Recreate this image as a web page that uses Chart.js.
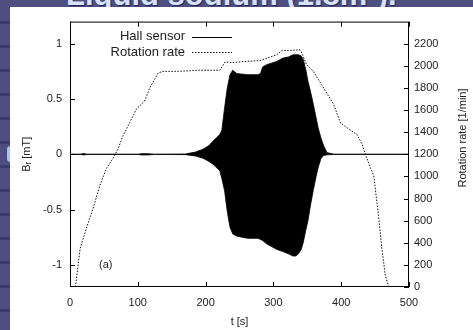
<!DOCTYPE html>
<html><head><meta charset="utf-8">
<script src="https://cdn.jsdelivr.net/npm/chart.js@4.4.1/dist/chart.umd.min.js"></script>
<style>
html,body{margin:0;padding:0;}
body{width:473px;height:330px;overflow:hidden;position:relative;background:#4b4b7c;
 background-image:repeating-linear-gradient(to bottom,#4e4e80 0px,#4e4e80 21px,#3b3b67 21px,#3b3b67 24px);}
#title{position:absolute;left:66px;top:-21px;font:bold 31px "Liberation Sans",Arial,sans-serif;color:#d6e2ff;white-space:nowrap;line-height:31px;text-shadow:1px 1px 1px #22224a;z-index:1;}
#panel{position:absolute;left:10px;top:7px;width:463px;height:323px;background:#fff;z-index:2;}
#blob{position:absolute;left:7px;top:146px;width:7px;height:16px;border-radius:4px;background:#a9c2f2;z-index:1;}
canvas{display:block;}
</style></head>
<body>
<div id="title">Liquid sodium (1.8m³).</div>
<div id="blob"></div>
<div id="panel"><canvas id="c" width="463" height="323"></canvas></div>
<script>
// ---- data ----
const rotT = [8, 15, 24, 34, 44, 53.5, 63, 71, 78, 88, 98, 110, 117.6, 130, 137, 160, 190, 221, 228.5, 240, 260, 280, 305, 312, 325, 339.5, 342, 349, 359, 374, 389, 398.7, 408.6, 423, 431, 435.6, 443, 448, 455, 460, 465, 470];
const rotR = [0, 350, 528, 710, 917, 1070, 1160, 1250, 1366, 1486, 1610, 1680, 1800, 1935, 1950, 1950, 1960, 1960, 2034, 2030, 2040, 2047, 2100, 2137, 2140, 2145, 2115, 2010, 1950, 1800, 1650, 1486, 1440, 1380, 1290, 1200, 1080, 1007, 647, 348, 108, 0];

const hallT = [0, 15, 20, 25, 35, 100, 105, 115, 125, 170, 185, 196, 205, 211, 216, 221, 224, 228, 232, 236, 240, 246, 262, 277, 281, 284, 290, 305, 314, 322, 329, 333, 337, 341, 344, 348, 351, 355, 359, 363, 366, 370, 374, 379, 390, 500];
const hallUpper = [0.001, 0.001, 0.008, 0.001, 0.001, 0.001, 0.006, 0.006, 0.001, 0.003, 0.02, 0.045, 0.08, 0.12, 0.15, 0.18, 0.22, 0.42, 0.6, 0.72, 0.76, 0.73, 0.72, 0.72, 0.73, 0.79, 0.81, 0.84, 0.87, 0.88, 0.9, 0.9, 0.9, 0.89, 0.86, 0.76, 0.66, 0.56, 0.45, 0.33, 0.24, 0.15, 0.08, 0.015, 0.001, 0.001];
const hallLower = [-0.001, -0.001, -0.006, -0.001, -0.001, -0.001, -0.006, -0.006, -0.001, -0.003, -0.015, -0.035, -0.065, -0.09, -0.12, -0.15, -0.22, -0.33, -0.52, -0.66, -0.72, -0.74, -0.76, -0.76, -0.77, -0.78, -0.81, -0.86, -0.88, -0.9, -0.92, -0.92, -0.9, -0.86, -0.8, -0.68, -0.6, -0.45, -0.32, -0.2, -0.12, -0.04, -0.01, -0.005, -0.001, -0.001];

const xTicks = [0, 100, 200, 300, 400, 500];
const yTicks = [-1, -0.5, 0, 0.5, 1];
const y2Ticks = [0, 200, 400, 600, 800, 1000, 1200, 1400, 1600, 1800, 2000, 2200];

const FONT = '"Liberation Sans", Arial, Helvetica, sans-serif';
Chart.defaults.font.family = FONT;

const toXY = (xs, ys) => xs.map((x, i) => ({x: x, y: ys[i]}));

const framePlugin = {
  id: 'frame',
  afterDatasetsDraw(chart) {
    const {ctx, chartArea: a, scales} = chart;
    ctx.save();
    ctx.strokeStyle = '#000';
    ctx.lineWidth = 1;
    ctx.strokeRect(a.left + 0.5, a.top + 0.5, a.right - a.left - 1, a.bottom - a.top - 1);
    const L = 5;
    ctx.beginPath();
    xTicks.forEach(v => {
      const p = Math.round(scales.x.getPixelForValue(v)) + 0.5;
      ctx.moveTo(p, a.bottom); ctx.lineTo(p, a.bottom - L);
      ctx.moveTo(p, a.top); ctx.lineTo(p, a.top + L);
    });
    yTicks.forEach(v => {
      const p = Math.round(scales.y.getPixelForValue(v)) + 0.5;
      ctx.moveTo(a.left, p); ctx.lineTo(a.left + L, p);
    });
    y2Ticks.forEach(v => {
      const p = Math.round(scales.y2.getPixelForValue(v)) + 0.5;
      ctx.moveTo(a.right, p); ctx.lineTo(a.right - L, p);
    });
    ctx.stroke();
    ctx.restore();
  },
  afterDraw(chart) {
    const {ctx, chartArea: a} = chart;
    ctx.save();
    const ds = chart.data.datasets.filter(d => d.label && !d.hideLegend);
    ctx.font = '13px ' + FONT;
    ctx.fillStyle = '#222';
    ctx.textAlign = 'right';
    ctx.textBaseline = 'middle';
    ds.forEach((d, i) => {
      const y = a.top + 15 + i * 15.5;
      ctx.fillText(d.label, a.left + 115, y);
      ctx.beginPath();
      ctx.strokeStyle = d.borderColor;
      ctx.lineWidth = 1;
      ctx.setLineDash(d.borderDash || []);
      ctx.moveTo(a.left + 122, Math.round(y) + 0.5);
      ctx.lineTo(a.left + 162, Math.round(y) + 0.5);
      ctx.stroke();
    });
    ctx.setLineDash([]);
    ctx.textAlign = 'left';
    ctx.font = '11px ' + FONT;
    ctx.fillText('(a)', a.left + 29, 258);
    ctx.translate(453, 131);
    ctx.rotate(-Math.PI / 2);
    ctx.textAlign = 'center';
    ctx.fillText('Rotation rate [1/min]', 0, 0);
    ctx.restore();
  }
};

new Chart(document.getElementById('c'), {
  type: 'line',
  data: {
    datasets: [
      {label: 'Hall sensor', data: toXY(hallT, hallUpper), yAxisID: 'y', borderColor: '#000', backgroundColor: '#000', borderWidth: 0.8, fill: '+1', pointRadius: 0},
      {label: 'Hall sensor (lower envelope)', hideLegend: true, data: toXY(hallT, hallLower), yAxisID: 'y', borderColor: '#000', backgroundColor: '#000', borderWidth: 0.8, fill: false, pointRadius: 0},
      {label: 'Rotation rate', data: toXY(rotT, rotR), yAxisID: 'y2', borderColor: '#111', borderWidth: 1, borderDash: [1.5, 1.5], fill: false, pointRadius: 0}
    ]
  },
  options: {
    responsive: false, animation: false, devicePixelRatio: 1,
    layout: {padding: {top: 13, left: 0, right: 0, bottom: 0}},
    plugins: {legend: {display: false}, tooltip: {enabled: false}},
    elements: {line: {tension: 0}, point: {radius: 0}},
    scales: {
      x: {
        type: 'linear', min: 0, max: 500,
        afterBuildTicks: s => { s.ticks = xTicks.map(v => ({value: v})); },
        afterFit: s => { s.height = 43; },
        ticks: {font: {size: 11}, color: '#222', padding: 9, maxRotation: 0, callback: v => String(v)},
        grid: {display: false, drawTicks: false}, border: {display: false},
        title: {display: true, text: 't [s]', font: {size: 11}, color: '#222', padding: 1}
      },
      y: {
        type: 'linear', position: 'left', min: -1.2, max: 1.2,
        afterBuildTicks: s => { s.ticks = yTicks.map(v => ({value: v})); },
        afterFit: s => { s.width = 60; },
        ticks: {font: {size: 11}, color: '#222', padding: 8, callback: v => String(v)},
        grid: {display: false, drawTicks: false}, border: {display: false},
        title: {display: true, text: 'Bᵣ [mT]', font: {size: 11}, color: '#222', padding: 10}
      },
      y2: {
        type: 'linear', position: 'right', min: 0, max: 2400,
        afterBuildTicks: s => { s.ticks = y2Ticks.map(v => ({value: v})); },
        afterFit: s => { s.width = 64; },
        ticks: {font: {size: 11}, color: '#222', padding: 5, callback: v => String(v)},
        grid: {display: false, drawTicks: false}, border: {display: false}
      }
    }
  },
  plugins: [framePlugin]
});
</script>
</body></html>
